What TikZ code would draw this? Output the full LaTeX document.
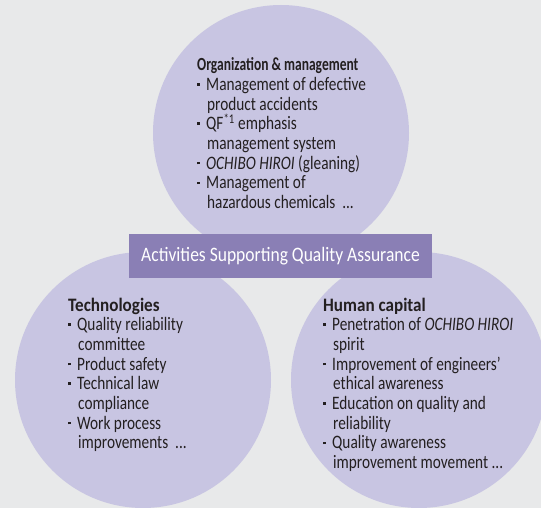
\documentclass[tikz,border=0pt]{standalone}
\usepackage{fontspec}
\setmainfont{Carlito}[FakeStretch=0.805]
\newfontfamily\condbold{Carlito}[FakeStretch=0.73,UprightFont=* Bold,BoldFont=* Bold]
\newfontfamily\titlebold{Carlito}[FakeStretch=0.9,UprightFont=* Bold,BoldFont=* Bold]
\newfontfamily\banfont{Carlito}[FakeStretch=0.855]
\definecolor{bg}{HTML}{E8E9EA}
\definecolor{circ}{HTML}{C8C5E2}
\definecolor{ban}{HTML}{8A7FB5}
\definecolor{txt}{HTML}{231F20}
\newcommand\bul{\makebox[9pt][l]{\raisebox{4.8pt}{\rule{2.6pt}{2.6pt}}}}
\newcommand\ind{\hspace*{10pt}}
\tikzset{
  bubble/.style={fill=circ},
  itemtext/.style={anchor=north west, inner sep=0pt, align=left, text=txt,
    font=\fontsize{19}{19.7}\selectfont},
  banner/.style={fill=ban, text=white, minimum width=303pt, minimum height=44pt,
    inner sep=0pt, font=\banfont\fontsize{20.5}{22}\selectfont}
}
\begin{document}
\begin{tikzpicture}[x=1pt,y=-1pt]
\useasboundingbox (0,0) rectangle (541,508);
\fill[bg] (0,0) rectangle (541,508);
\clip (0,0) rectangle (541,508);
\fill[bubble] (281,133) circle[radius=128pt];
\fill[bubble] (143,380) circle[radius=128pt];
\fill[bubble] (419,380) circle[radius=128pt];
\node[banner] (ban) at (280.5,256) {Activities Supporting Quality Assurance};
\node[itemtext] (org) at (197,57.5) {{\condbold\fontsize{18.5}{19.7}\selectfont Organization \& management}\\
\bul Management of defective\\
\ind product accidents\\
\bul QF\textsuperscript{*1} emphasis\\
\ind management system\\
\bul \textit{OCHIBO HIROI} (gleaning)\\
\bul Management of\\
\ind hazardous chemicals\ \ ...};
\node[itemtext] (tech) at (68,297.5) {{\titlebold\fontsize{19}{19.7}\selectfont Technologies}\\
\bul Quality reliability\\
\ind committee\\
\bul Product safety\\
\bul Technical law\\
\ind compliance\\
\bul Work process\\
\ind improvements\ \ ...};
\node[itemtext] (hum) at (323,297.5) {{\titlebold\fontsize{19}{19.7}\selectfont Human capital}\\
\bul Penetration of \textit{OCHIBO HIROI}\\
\ind spirit\\
\bul Improvement of engineers'\\
\ind ethical awareness\\
\bul Education on quality and\\
\ind reliability\\
\bul Quality awareness\\
\ind improvement movement ...};
\end{tikzpicture}
\end{document}
